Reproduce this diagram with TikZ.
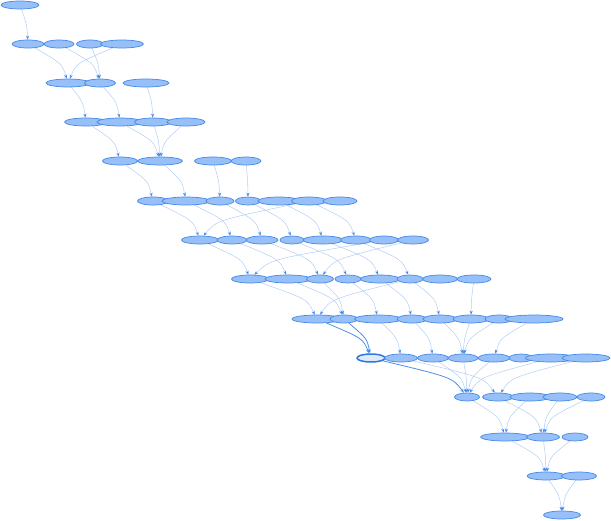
\documentclass[tikz,border=0pt]{standalone}
\usetikzlibrary{shapes.geometric,arrows.meta,backgrounds,calc}
\definecolor{nfill}{RGB}{150,192,247}
\definecolor{nline}{RGB}{68,136,232}
\definecolor{eline}{RGB}{178,206,245}
\definecolor{atip}{RGB}{70,138,232}
\definecolor{hfill}{RGB}{222,234,250}
\definecolor{hline}{RGB}{46,120,222}
\definecolor{hedge}{RGB}{80,145,232}
\newcommand{\myedge}[3][ed]{\draw[#1] let \p1=(#2), \p2=(#3) in (#2) .. controls ({\x2+0.15*(\x1-\x2)},{0.5*(\y1+\y2)}) .. (#3);}
\begin{document}
\begin{tikzpicture}[x=1pt,y=-1pt,
  nd/.style={ellipse,draw=nline,fill=nfill,line width=0.7pt,inner sep=0pt,minimum height=8pt},
  hl/.style={ellipse,draw=hline,fill=hfill,line width=1.5pt,inner sep=0pt,minimum height=8pt},
  ed/.style={draw=eline,line width=0.5pt,-{Stealth[length=4pt,width=3pt,color=atip]}},
  hed/.style={draw=hedge,line width=0.8pt,-{Stealth[length=4pt,width=3pt,color=atip]}}]
\useasboundingbox (0,0) rectangle (611,520);
% row 0
\node[nd,minimum width=38pt] (a0) at (20,5) {};
% row 1
\node[nd,minimum width=32pt] (b1) at (28,44) {};
\node[nd,minimum width=30pt] (b2) at (59,44) {};
\node[nd,minimum width=27pt] (b3) at (90,44) {};
\node[nd,minimum width=43pt] (b4) at (122,44) {};
% row 2
\node[nd,minimum width=44pt] (c1) at (68,83) {};
\node[nd,minimum width=31pt] (c2) at (100,83) {};
\node[nd,minimum width=46pt] (c3) at (146,83) {};
% row 3
\node[nd,minimum width=43pt] (d1) at (86,122) {};
\node[nd,minimum width=46pt] (d2) at (120,122) {};
\node[nd,minimum width=37pt] (d3) at (153,122) {};
\node[nd,minimum width=38pt] (d4) at (186,122) {};
% row 4
\node[nd,minimum width=35pt] (e1) at (120,161) {};
\node[nd,minimum width=45pt] (e2) at (160,161) {};
\node[nd,minimum width=37pt] (e3) at (213,161) {};
\node[nd,minimum width=30pt] (e4) at (246,161) {};
% row 5
\node[nd,minimum width=31pt] (f1) at (153,201) {};
\node[nd,minimum width=48pt] (f2) at (186,201) {};
\node[nd,minimum width=28pt] (f3) at (220,201) {};
\node[nd,minimum width=25pt] (f4) at (248,201) {};
\node[nd,minimum width=42pt] (f5) at (279,201) {};
\node[nd,minimum width=35pt] (f6) at (309,201) {};
\node[nd,minimum width=34pt] (f7) at (340,201) {};
% row 6
\node[nd,minimum width=37pt] (g1) at (200,240) {};
\node[nd,minimum width=30pt] (g2) at (232,240) {};
\node[nd,minimum width=32pt] (g3) at (262,240) {};
\node[nd,minimum width=24pt] (g4) at (292,240) {};
\node[nd,minimum width=40pt] (g5) at (323,240) {};
\node[nd,minimum width=31pt] (g6) at (356,240) {};
\node[nd,minimum width=29pt] (g7) at (384,240) {};
\node[nd,minimum width=31pt] (g8) at (413,240) {};
% row 7
\node[nd,minimum width=37pt] (h1) at (250,279) {};
\node[nd,minimum width=46pt] (h2) at (288,279) {};
\node[nd,minimum width=27pt] (h3) at (320,279) {};
\node[nd,minimum width=26pt] (h4) at (348,279) {};
\node[nd,minimum width=39pt] (h5) at (380,279) {};
\node[nd,minimum width=26pt] (h6) at (410,279) {};
\node[nd,minimum width=35pt] (h7) at (440,279) {};
\node[nd,minimum width=34pt] (h8) at (474,279) {};
% row 8
\node[nd,minimum width=50pt] (i1) at (317,319) {};
\node[nd,minimum width=28pt] (i2) at (344,319) {};
\node[nd,minimum width=47pt] (i3) at (378,319) {};
\node[nd,minimum width=30pt] (i4) at (412,319) {};
\node[nd,minimum width=34pt] (i5) at (440,319) {};
\node[nd,minimum width=36pt] (i6) at (471,319) {};
\node[nd,minimum width=28pt] (i7) at (499,319) {};
\node[nd,minimum width=58pt] (i8) at (534,319) {};
% row 9
\node[hl,minimum width=28pt] (j1) at (371,358) {};
\node[nd,minimum width=33pt] (j2) at (401,358) {};
\node[nd,minimum width=31pt] (j3) at (433,358) {};
\node[nd,minimum width=30pt] (j4) at (463,358) {};
\node[nd,minimum width=32pt] (j5) at (494,358) {};
\node[nd,minimum width=24pt] (j6) at (521,358) {};
\node[nd,minimum width=51pt] (j7) at (551,358) {};
\node[nd,minimum width=48pt] (j8) at (586,358) {};
% row 10
\node[nd,minimum width=25pt] (k1) at (467,397) {};
\node[nd,minimum width=31pt] (k2) at (498,397) {};
\node[nd,minimum width=40pt] (k3) at (530,397) {};
\node[nd,minimum width=34pt] (k4) at (560,397) {};
\node[nd,minimum width=28pt] (k5) at (591,397) {};
% row 11
\node[nd,minimum width=49pt] (l1) at (505,437) {};
\node[nd,minimum width=33pt] (l2) at (543,437) {};
\node[nd,minimum width=26pt] (l3) at (575,437) {};
% row 12
\node[nd,minimum width=38pt] (m1) at (546,476) {};
\node[nd,minimum width=35pt] (m2) at (579,476) {};
% row 13
\node[nd,minimum width=37pt] (n1) at (562,515) {};

\begin{pgfonlayer}{background}
\myedge{a0}{b1}
\myedge{b1}{c1}\myedge{b4}{c1}\myedge{b2}{c2}\myedge{b3}{c2}
\myedge{c1}{d1}\myedge{c2}{d2}\myedge{c3}{d3}
\myedge{d1}{e1}\myedge{d2}{e2}\myedge{d3}{e2}\myedge{d4}{e2}
\myedge{e1}{f1}\myedge{e2}{f2}\myedge{e3}{f3}\myedge{e4}{f4}
\myedge{f1}{g1}\myedge{f2}{g2}\myedge{f3}{g3}\myedge{f4}{g4}\myedge{f5}{g5}\myedge{f6}{g6}\myedge{f6}{g1}
\myedge{g1}{h1}\myedge{g2}{h2}\myedge{g3}{h3}\myedge{g4}{h4}\myedge{g5}{h5}\myedge{g6}{h6}\myedge{g7}{h1}\myedge{g8}{h3}
\myedge{h1}{i1}\myedge{h2}{i2}\myedge{h3}{i2}\myedge{h4}{i3}\myedge{h5}{i4}\myedge{h6}{i5}\myedge{h6}{i1}\myedge{h8}{i6}
\myedge[hed]{i1}{j1}\myedge[hed]{i2}{j1}\myedge{i3}{j2}\myedge{i4}{j3}\myedge{i5}{j4}\myedge{i6}{j4}\myedge{i7}{j4}\myedge{i8}{j5}
\myedge[hed]{j1}{k1}\myedge{j2}{k2}\myedge{j3}{k1}\myedge{j4}{k1}\myedge{j5}{k1}\myedge{j7}{k1}\myedge{j8}{k2}
\myedge{k1}{l1}\myedge{k3}{l1}\myedge{k2}{l2}\myedge{k4}{l2}\myedge{k5}{l2}
\myedge{l1}{m1}\myedge{l2}{m1}\myedge{l3}{m1}
\myedge{m1}{n1}\myedge{m2}{n1}
\end{pgfonlayer}
\end{tikzpicture}
\end{document}
